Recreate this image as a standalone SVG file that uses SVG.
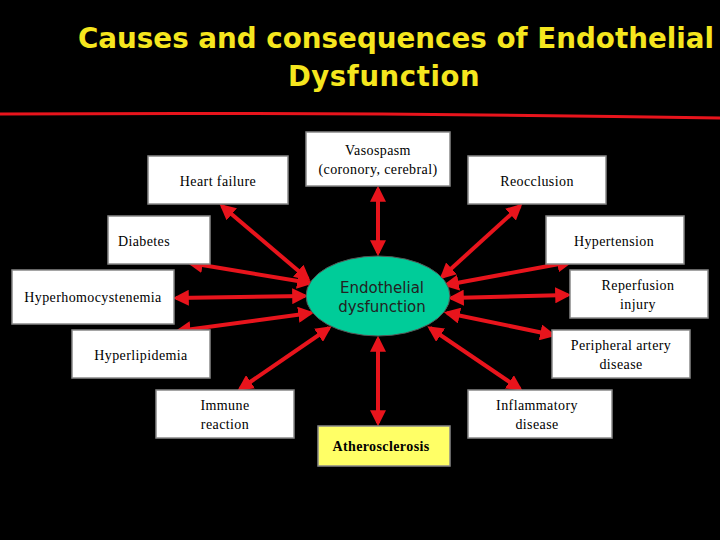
<svg xmlns="http://www.w3.org/2000/svg" width="720" height="540" viewBox="0 0 720 540">
<style>
.box{fill:#fff;stroke:#888;stroke-width:1.5}
.t{font-family:"Liberation Serif",serif;font-size:14px;fill:#000;text-anchor:middle;letter-spacing:0.4px}
.c{stroke:#e8141c;stroke-width:4;fill:none;marker-start:url(#a);marker-end:url(#a)}
</style>
<defs>
<marker id="a" viewBox="0 0 10 10" refX="8" refY="5" markerWidth="4" markerHeight="4" orient="auto-start-reverse" markerUnits="strokeWidth">
<path d="M0,0 L10,5 L0,10 z" fill="#e8141c"/>
</marker>
</defs>
<rect width="720" height="540" fill="#000"/>
<g id="title" font-family="DejaVu Sans,sans-serif" font-weight="bold" font-size="27.5" fill="#f5e61e">
<text x="78" y="48" textLength="636" lengthAdjust="spacingAndGlyphs">Causes and consequences of Endothelial</text>
<text x="384" y="86" text-anchor="middle" letter-spacing="0.6">Dysfunction</text>
</g>
<path d="M0,114 Q360,112 720,118" stroke="#e8141c" stroke-width="3" fill="none"/>
<g id="connectors">
<line class="c" x1="222" y1="206" x2="308" y2="279"/>
<line class="c" x1="378" y1="189" x2="378" y2="253"/>
<line class="c" x1="520" y1="206" x2="442" y2="277"/>
<line class="c" x1="190" y1="263" x2="310" y2="283"/>
<line class="c" x1="570" y1="262" x2="446" y2="285"/>
<line class="c" x1="176" y1="298" x2="305" y2="296"/>
<line class="c" x1="568" y1="295" x2="451" y2="298"/>
<line class="c" x1="178" y1="331" x2="311" y2="313"/>
<line class="c" x1="553" y1="335" x2="447" y2="313"/>
<line class="c" x1="240" y1="389" x2="329" y2="328"/>
<line class="c" x1="520" y1="389" x2="430" y2="328"/>
<line class="c" x1="378" y1="339" x2="378" y2="423"/>
</g>
<g id="heart"><rect class="box" x="148" y="156" width="140" height="48"/><text class="t" x="218" y="186">Heart failure</text></g>
<g id="vaso"><rect class="box" x="306" y="132" width="144" height="54"/><text class="t" x="378" y="155">Vasospasm</text><text class="t" x="378" y="174">(coronory, cerebral)</text></g>
<g id="reocc"><rect class="box" x="468" y="156" width="138" height="48"/><text class="t" x="537" y="186">Reocclusion</text></g>
<g id="diab"><rect class="box" x="108" y="216" width="102" height="48"/><text class="t" x="144" y="246">Diabetes</text></g>
<g id="hyper"><rect class="box" x="546" y="216" width="138" height="48"/><text class="t" x="614" y="246">Hypertension</text></g>
<g id="homo"><rect class="box" x="12" y="270" width="162" height="54"/><text class="t" x="93" y="302">Hyperhomocystenemia</text></g>
<g id="reperf"><rect class="box" x="570" y="270" width="138" height="48"/><text class="t" x="638" y="290">Reperfusion</text><text class="t" x="638" y="309">injury</text></g>
<g id="lipid"><rect class="box" x="72" y="330" width="138" height="48"/><text class="t" x="141" y="360">Hyperlipidemia</text></g>
<g id="periph"><rect class="box" x="552" y="330" width="138" height="48"/><text class="t" x="621" y="350">Peripheral artery</text><text class="t" x="621" y="369">disease</text></g>
<g id="immune"><rect class="box" x="156" y="390" width="138" height="48"/><text class="t" x="225" y="410">Immune</text><text class="t" x="225" y="429">reaction</text></g>
<g id="inflam"><rect class="box" x="468" y="390" width="144" height="48"/><text class="t" x="537" y="410">Inflammatory</text><text class="t" x="537" y="429">disease</text></g>
<g id="athero"><rect x="318" y="426" width="132" height="40" fill="#ffff66" stroke="#888" stroke-width="1.5"/><text class="t" x="381" y="451" font-weight="bold" font-size="15">Atherosclerosis</text></g>
<g id="center"><ellipse cx="378" cy="296" rx="72" ry="40" fill="#00cc99" stroke="#555"/>
<text x="382" y="293" font-family="DejaVu Sans,sans-serif" font-size="15" fill="#222" text-anchor="middle">Endothelial</text>
<text x="382" y="312" font-family="DejaVu Sans,sans-serif" font-size="15" fill="#222" text-anchor="middle">dysfunction</text></g>
</svg>
